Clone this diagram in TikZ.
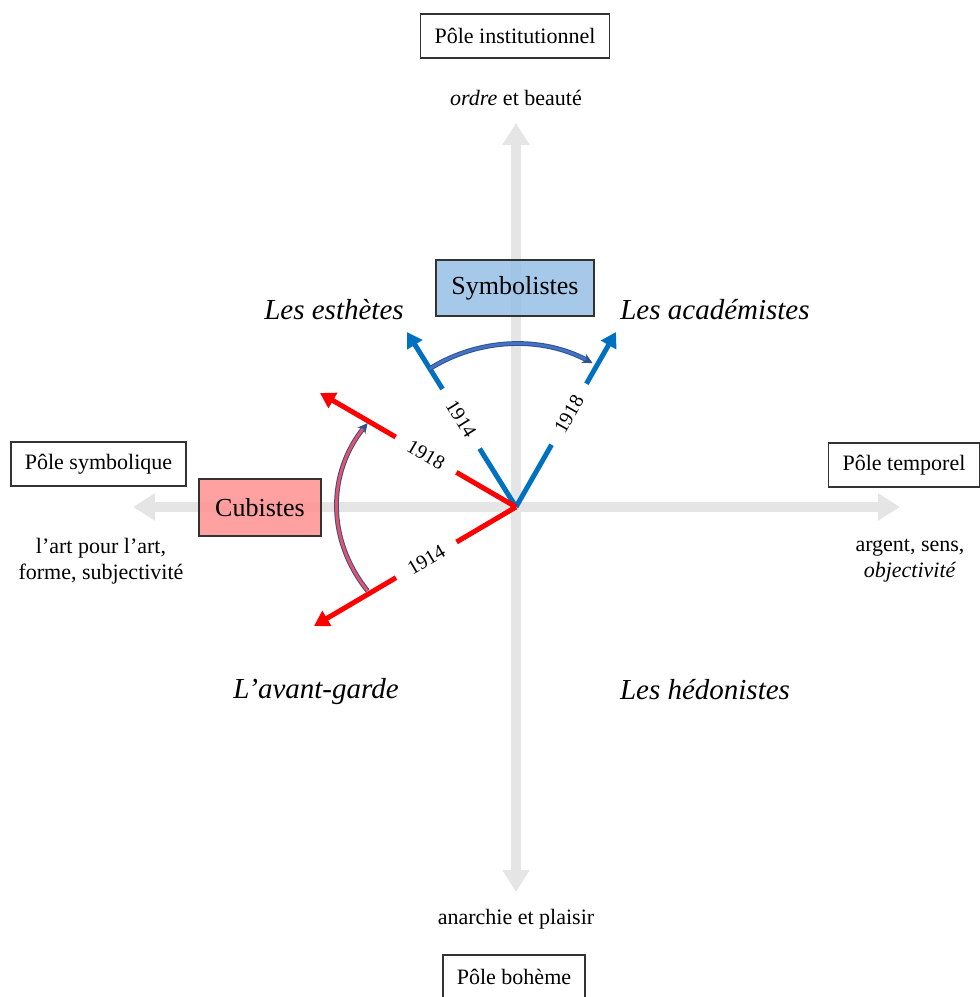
\documentclass[tikz,border=0pt]{standalone}
\usepackage{fontspec}
\setmainfont{Liberation Serif}
\usepackage{tikz}
\usetikzlibrary{positioning,arrows.meta,calc}
\definecolor{axegris}{RGB}{229,229,229}
\definecolor{symbleu}{RGB}{0,112,192}
\definecolor{cubrouge}{RGB}{255,0,0}
\definecolor{boxbleu}{RGB}{150,192,230}
\definecolor{boxrose}{RGB}{255,145,145}
\definecolor{courbebord}{RGB}{47,82,143}
\definecolor{courbebleu}{RGB}{68,114,196}
\definecolor{courberouge}{RGB}{235,80,100}

\begin{document}
\begin{tikzpicture}[x=0.5pt,y=0.5pt,
    pole/.style={draw=black!80,line width=0.7pt,rectangle,minimum height=22pt,inner xsep=7pt,font=\fontsize{11}{13}\selectfont},
    valeur/.style={align=center,font=\fontsize{11}{13}\selectfont},
    axe/.style={axegris,line width=5pt,{Triangle[length=11pt,width=13pt]}-{Triangle[length=11pt,width=13pt]}},
    groupe/.style={draw=black!80,line width=0.7pt,rectangle,fill opacity=0.85,text opacity=1,font=\fontsize{13}{15}\selectfont},
    quadrant/.style={font=\fontsize{14.5}{17}\selectfont\itshape},
    fleche/.style={line width=2.5pt,-{Triangle[length=7.5pt,width=8.5pt]}},
    annee/.style={fill=white,text=black,sloped,minimum width=35pt,inner sep=1pt,font=\fontsize{10}{12}\selectfont},
    courbe/.style={draw=courbebord,line width=0.5pt,double distance=1.4pt,-{Stealth[length=5pt,width=5pt]}}
]
    \useasboundingbox (-516,-490) rectangle (464,507);
    % axes
    \coordinate (c) at (0,0);
    \coordinate (haut) at (0,384);
    \coordinate (bas) at (0,-385);
    \coordinate (gauche) at (-383,0);
    \coordinate (droite) at (384,0);
    \draw[axe] (bas)--(haut);
    \draw[axe] (gauche)--(droite);
    % deplacements 1914 -> 1918
    \coordinate (bleu1914) at (-109,175);
    \coordinate (bleu1918) at (100,175);
    \coordinate (rouge1918) at (-196,114);
    \coordinate (rouge1914) at (-202,-119);
    \draw[fleche,symbleu] (c)--node[annee,pos=0.504]{1914}(bleu1914);
    \draw[fleche,symbleu] (c)--node[annee,pos=0.53]{1918}(bleu1918);
    \draw[fleche,cubrouge] (c)--node[annee,pos=0.459]{1918}(rouge1918);
    \draw[fleche,cubrouge] (c)--node[annee,pos=0.444]{1914}(rouge1914);
    \draw[courbe,double=courbebleu] (122:163) arc[start angle=122,end angle=62,radius=81.5pt];
    \draw[courbe,double=courberouge] (214:179 and 150) arc[start angle=214,end angle=146,x radius=89.5pt,y radius=75pt];
    % poles
    \node[pole](instit) at (-1,471){Pôle institutionnel};
    \node[valeur](ordre) at (0,409){\textit{ordre} et beauté};
    \node[pole](symb) at (-417.5,43){Pôle symbolique};
    \node[valeur](artpour) at (-415,-54){l'art pour l'art,\\forme, subjectivité};
    \node[pole](temp) at (388,42){Pôle temporel};
    \node[valeur](argent) at (394,-54){argent, sens,\\\textit{objectivité}};
    \node[valeur](anarchie) at (0,-412){anarchie et plaisir};
    \node[pole](boheme) at (-2,-470){Pôle bohème};
    % groupes
    \node[groupe,fill=boxbleu,minimum width=79pt,minimum height=28pt](symbolistes) at (-1,219){Symbolistes};
    \node[groupe,fill=boxrose,minimum width=61pt,minimum height=28.5pt](cubistes) at (-256,-0.5){Cubistes};
    \node[quadrant](esthetes) at (-182,197){Les esthètes};
    \node[quadrant](academistes) at (199,197){Les académistes};
    \node[quadrant](avantgarde) at (-200,-185){L'avant-garde};
    \node[quadrant](hedonistes) at (189,-183){Les hédonistes};
\end{tikzpicture}
\end{document}
